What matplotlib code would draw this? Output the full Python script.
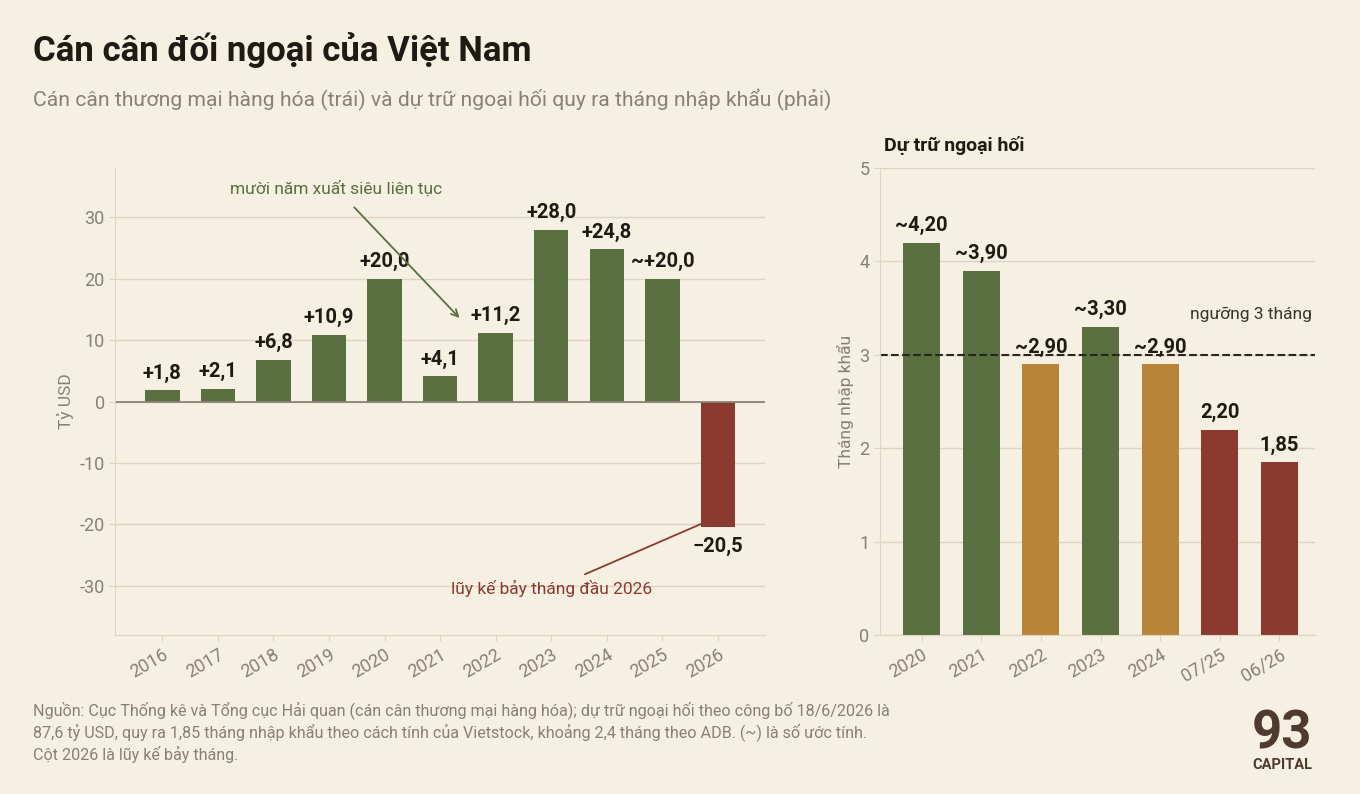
import matplotlib.pyplot as plt

plt.rcParams['font.family'] = ['Roboto', 'DejaVu Sans']
plt.rcParams['axes.unicode_minus'] = False

BG = '#f6f0e3'
GREEN = '#5a7040'
RED = '#8b3a2f'
GOLD = '#b8843a'
GRID = '#ddd5c2'
TXT = '#8a7f72'
DARK = '#1f1a14'

# trade balance (left)
years = ['2016', '2017', '2018', '2019', '2020', '2021', '2022', '2023', '2024', '2025', '2026']
balance = [1.8, 2.1, 6.8, 10.9, 20.0, 4.1, 11.2, 28.0, 24.8, 20.0, -20.5]
bal_labels = ['+1,8', '+2,1', '+6,8', '+10,9', '+20,0', '+4,1', '+11,2', '+28,0', '+24,8', '~+20,0', '−20,5']

# reserves in months of imports (right)
periods = ['2020', '2021', '2022', '2023', '2024', '07/25', '06/26']
months = [4.20, 3.90, 2.90, 3.30, 2.90, 2.20, 1.85]
mon_labels = ['~4,20', '~3,90', '~2,90', '~3,30', '~2,90', '2,20', '1,85']
mon_colors = [GREEN, GREEN, GOLD, GREEN, GOLD, RED, RED]

fig = plt.figure(figsize=(13.6, 7.94), dpi=100, facecolor=BG)

def style(ax):
    ax.set_facecolor(BG)
    for s in ['top', 'right']:
        ax.spines[s].set_visible(False)
    for s in ['left', 'bottom']:
        ax.spines[s].set_color(GRID)
    ax.tick_params(colors=TXT, labelsize=13, length=4, color=GRID)
    ax.grid(axis='y', color=GRID, lw=1)
    ax.set_axisbelow(True)

ax = fig.add_axes([0.0846, 0.2003, 0.478, 0.588])
style(ax)
x = range(len(years))
cols = [GREEN if v >= 0 else RED for v in balance]
ax.bar(x, balance, width=0.62, color=cols)
ax.axhline(0, color='#8a8378', lw=1.3)
for i, (v, l) in enumerate(zip(balance, bal_labels)):
    if v >= 0:
        ax.text(i, v + 1.2, l, ha='center', va='bottom', fontsize=14.5, fontweight='bold', color=DARK)
    else:
        ax.text(i, v - 1.5, l, ha='center', va='top', fontsize=14.5, fontweight='bold', color=DARK)
ax.set_ylim(-38, 38)
ax.set_xlim(-0.85, 10.85)
ax.set_yticks([-30, -20, -10, 0, 10, 20, 30])
ax.set_xticks(list(x))
ax.set_xticklabels(years, rotation=30, ha='right', rotation_mode='anchor')
ax.set_ylabel('Tỷ USD', color=TXT, fontsize=12.5)
ax.annotate('mười năm xuất siêu liên tục', xy=(5.35, 13.6), xytext=(3.13, 34.7),
            ha='center', va='center', fontsize=12.5, color=GREEN,
            arrowprops=dict(arrowstyle='->', color=GREEN, lw=1.3, shrinkA=8, shrinkB=0))
ax.annotate('lũy kế bảy tháng đầu 2026', xy=(9.73, -19.8), xytext=(7.0, -30.5),
            ha='center', va='center', fontsize=12.5, color=RED,
            arrowprops=dict(arrowstyle='-', color=RED, lw=1.3, shrinkA=6, shrinkB=0))

ax2 = fig.add_axes([0.647, 0.2003, 0.32, 0.588])
style(ax2)
x2 = range(len(periods))
ax2.bar(x2, months, width=0.62, color=mon_colors)
for i, (v, l) in enumerate(zip(months, mon_labels)):
    ax2.text(i, v + 0.08, l, ha='center', va='bottom', fontsize=14.5, fontweight='bold', color=DARK)
ax2.axhline(3, color='#2a2520', lw=1.5, ls='--')
ax2.text(6.55, 3.43, 'ngưỡng 3 tháng', ha='right', va='center', fontsize=12.5, color='#3a342c')
ax2.set_ylim(0, 5)
ax2.set_xlim(-0.7, 6.6)
ax2.set_yticks([0, 1, 2, 3, 4, 5])
ax2.set_xticks(list(x2))
ax2.set_xticklabels(periods, rotation=30, ha='right', rotation_mode='anchor')
ax2.set_ylabel('Tháng nhập khẩu', color=TXT, fontsize=12.5)
ax2.set_title('Dự trữ ngoại hối', loc='left', fontsize=14, fontweight='bold', color=DARK, pad=12, x=0.01)

fig.text(0.024, 0.937, 'Cán cân đối ngoại của Việt Nam', fontsize=25, fontweight='bold', color=DARK, va='center')
fig.text(0.024, 0.874, 'Cán cân thương mại hàng hóa (trái) và dự trữ ngoại hối quy ra tháng nhập khẩu (phải)',
         fontsize=15.2, color=TXT, va='center')
fig.text(0.024, 0.078,
         'Nguồn: Cục Thống kê và Tổng cục Hải quan (cán cân thương mại hàng hóa); dự trữ ngoại hối theo công bố 18/6/2026 là\n'
         '87,6 tỷ USD, quy ra 1,85 tháng nhập khẩu theo cách tính của Vietstock, khoảng 2,4 tháng theo ADB. (~) là số ước tính.\n'
         'Cột 2026 là lũy kế bảy tháng.', fontsize=11.6, color=TXT, va='center', linespacing=1.35)
fig.text(0.943, 0.044, '93', fontsize=38, fontweight='bold', color='#4e3a2e', ha='center', va='bottom',
         fontstretch='condensed')
fig.text(0.943, 0.045, 'CAPITAL', fontsize=10.5, fontweight='bold', color='#4e3a2e', ha='center', va='top')

fig.savefig('out.png', dpi=100, facecolor=BG)
